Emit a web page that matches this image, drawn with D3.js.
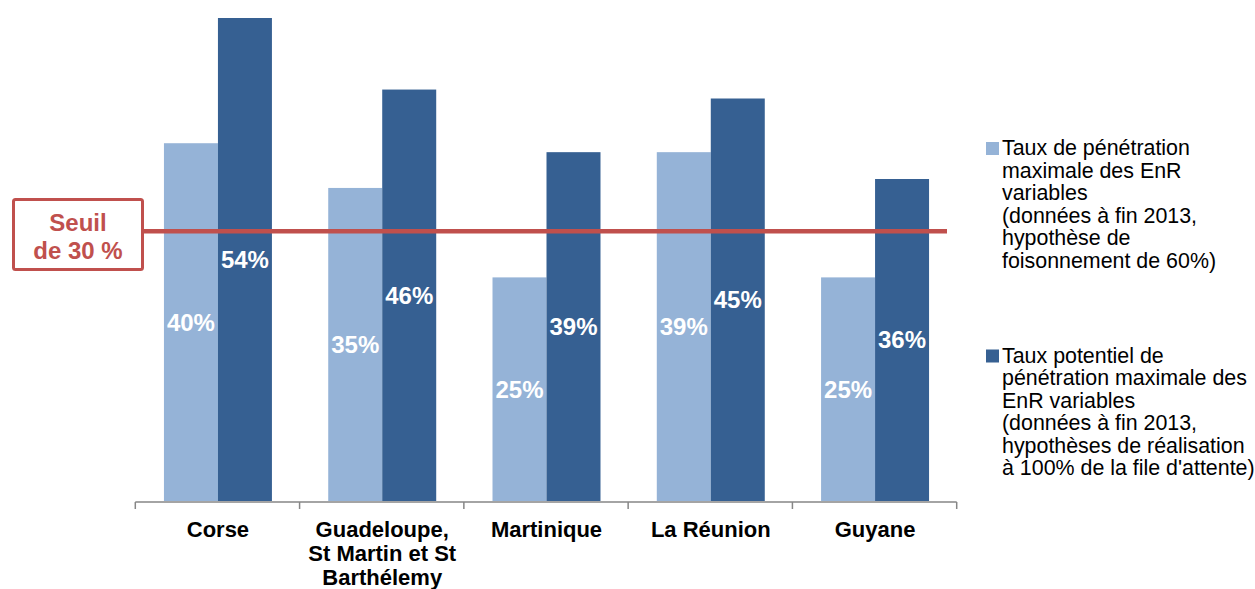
<!DOCTYPE html>
<html>
<head>
<meta charset="utf-8">
<script src="https://cdn.jsdelivr.net/npm/d3@7.9.0/dist/d3.min.js"></script>
<style>
  body { margin: 0; background: #fff; }
  svg { display: block; font-family: "Liberation Sans", Arial, sans-serif; }
</style>
</head>
<body>
<svg id="chart" width="1255" height="589"></svg>
<script>
const categories = [
  ['Corse'],
  ['Guadeloupe,', 'St Martin et St', 'Barthélemy'],
  ['Martinique'],
  ['La Réunion'],
  ['Guyane']
];
const seriesNames = ['actuel', 'potentiel'];
const tauxActuel = [40, 35, 25, 39, 25];
const tauxPotentiel = [54, 46, 39, 45, 36];
const seuil = 30;
const legendLabels = [
  ['Taux de pénétration', 'maximale des EnR', 'variables', '(données à fin 2013,', 'hypothèse de', 'foisonnement de 60%)'],
  ['Taux potentiel de', 'pénétration maximale des', 'EnR variables', '(données à fin 2013,', 'hypothèses de réalisation', 'à 100% de la file d\'attente)']
];
const colors = ['#95b3d7', '#366092'];

const svg = d3.select('#chart');
const keys = categories.map(c => c.join(' '));
const rows = keys.map((k, i) => ({ key: k, values: [tauxActuel[i], tauxPotentiel[i]] }));

const left = 135.3, right = 956.7, baseline = 501;
const y = d3.scaleLinear().domain([0, 54]).range([baseline, 18]);
const x0 = d3.scaleBand().domain(keys).range([left, right])
  .paddingInner(0.3427).paddingOuter(0.3427 / 2);
const x1 = d3.scaleBand().domain(seriesNames).range([0, x0.bandwidth()]);

// bars
const groups = svg.selectAll('g.grp').data(rows).join('g')
  .attr('class', 'grp')
  .attr('transform', d => `translate(${x0(d.key) + 0.5},0)`);

groups.selectAll('rect').data(d => d.values.map((v, i) => ({ v, s: seriesNames[i], i })))
  .join('rect')
  .attr('x', d => x1(d.s))
  .attr('y', d => y(d.v))
  .attr('width', x1.bandwidth())
  .attr('height', d => baseline - y(d.v))
  .attr('fill', d => colors[d.i]);

groups.selectAll('text').data(d => d.values.map((v, i) => ({ v, s: seriesNames[i] })))
  .join('text')
  .attr('x', d => x1(d.s) + x1.bandwidth() / 2)
  .attr('y', d => (y(d.v) + baseline) / 2)
  .attr('dy', '0.35em')
  .attr('text-anchor', 'middle')
  .attr('fill', '#fff')
  .attr('font-weight', 'bold')
  .attr('font-size', 24)
  .text(d => d.v + '%');

// axis
svg.append('line')
  .attr('x1', left).attr('x2', right)
  .attr('y1', baseline + 1).attr('y2', baseline + 1)
  .attr('stroke', '#868686').attr('stroke-width', 1.5);
const step = x0.step();
d3.range(keys.length + 1).forEach(i => {
  const tx = left + i * step;
  svg.append('line')
    .attr('x1', tx).attr('x2', tx)
    .attr('y1', baseline + 1).attr('y2', baseline + 8)
    .attr('stroke', '#868686').attr('stroke-width', 1.5);
});

const labels = svg.selectAll('text.cat').data(categories).join('text')
  .attr('class', 'cat')
  .attr('text-anchor', 'middle')
  .attr('font-weight', 'bold')
  .attr('font-size', 22)
  .attr('fill', '#000');
labels.each(function(lines, i) {
  const cx = x0(keys[i]) + x0.bandwidth() / 2 + 0.5;
  d3.select(this).selectAll('tspan').data(lines).join('tspan')
    .attr('x', cx)
    .attr('y', (d, j) => 537 + j * 24)
    .text(d => d);
});

// seuil line
svg.append('line')
  .attr('x1', 142).attr('x2', 947)
  .attr('y1', y(seuil) - 1.5).attr('y2', y(seuil) - 1.5)
  .attr('stroke', '#c0504d').attr('stroke-width', 4.5);
svg.append('rect')
  .attr('x', 13.5).attr('y', 199.5).attr('width', 129).attr('height', 70)
  .attr('rx', 2)
  .attr('fill', '#fff').attr('stroke', '#c0504d').attr('stroke-width', 3);
svg.append('text')
  .attr('text-anchor', 'middle')
  .attr('font-weight', 'bold').attr('font-size', 24)
  .attr('fill', '#c0504d')
  .selectAll('tspan').data(['Seuil', 'de 30 %']).join('tspan')
  .attr('x', 78).attr('y', (d, j) => 230.5 + j * 28)
  .text(d => d);

// legend
const legendBase = [155, 362.5];
legendLabels.forEach((lines, i) => {
  svg.append('rect')
    .attr('x', 986).attr('y', legendBase[i] - 13)
    .attr('width', 13).attr('height', 13)
    .attr('fill', colors[i]);
  svg.append('text')
    .attr('font-size', 21.4).attr('fill', '#000')
    .selectAll('tspan').data(lines).join('tspan')
    .attr('x', 1002)
    .attr('y', (d, j) => legendBase[i] + j * 22.5)
    .text(d => d);
});
</script>
</body>
</html>
